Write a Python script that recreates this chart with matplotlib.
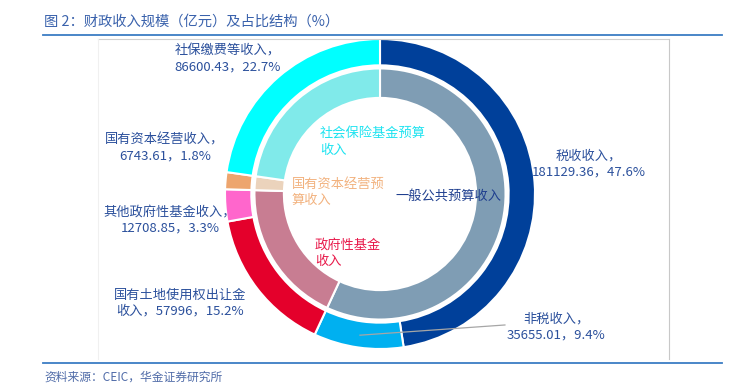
import matplotlib
matplotlib.use("Agg")
import matplotlib.pyplot as plt
from matplotlib.lines import Line2D
import numpy as np

plt.rcParams['font.family'] = ['Noto Sans CJK SC', 'DejaVu Sans']

W, H = 732, 384

# outer ring: revenue items
outer_names = ["税收收入", "非税收入", "国有土地使用权出让金收入", "其他政府性基金收入",
               "国有资本经营收入", "社保缴费等收入"]
outer_vals = [181129.36, 35655.01, 57996, 12708.85, 6743.61, 86600.43]
outer_pcts = ["47.6%", "9.4%", "15.2%", "3.3%", "1.8%", "22.7%"]
outer_colors = ["#00409A", "#00B0F0", "#E4002B", "#FF66CC", "#EDA56E", "#00FFFF"]

# inner ring: budget accounts
inner_names = ["一般公共预算收入", "政府性基金收入", "国有资本经营预算收入", "社会保险基金预算收入"]
inner_vals = [181129.36 + 35655.01, 57996 + 12708.85, 6743.61, 86600.43]
inner_colors = ["#7F9DB4", "#C87D92", "#EBD3BC", "#80EAEA"]

label_color = "#2B509C"


def px(x, y):
    return x / W, 1 - y / H


def hline(x0, x1, y, **kw):
    fig.add_artist(Line2D([x0 / W, x1 / W], [1 - y / H] * 2, **kw))


def vline(x, y0, y1, **kw):
    fig.add_artist(Line2D([x / W] * 2, [1 - y0 / H, 1 - y1 / H], **kw))


fig = plt.figure(figsize=(W / 100, H / 100), dpi=100)

# frame lines
hline(43, 722, 35, color="#3B7DC4", lw=1.3)
hline(43, 722, 363, color="#3B7DC4", lw=1.3)
hline(98, 669, 39, color="#CFCFCF", lw=0.8)
vline(669, 39, 359, color="#C8C8C8", lw=0.8)
vline(98, 39, 359, color="#F0F0F0", lw=0.8)

fig.text(*px(44, 22), "图 2：财政收入规模（亿元）及占比结构（%）", color="#3A62AC",
         fontsize=10.3, va="center", ha="left")
fig.text(*px(44, 377), "资料来源：CEIC，华金证券研究所", color="#4F6BA8",
         fontsize=8.5, va="center", ha="left", style="italic")

ax = fig.add_axes([(380 - 155) / W, (H - 194 - 155) / H, 310 / W, 310 / H])
ax.pie(outer_vals, radius=1, colors=outer_colors, startangle=90, counterclock=False,
       wedgeprops=dict(width=0.17, edgecolor="white", linewidth=1.5))
ax.pie(inner_vals, radius=0.81, colors=inner_colors, startangle=90, counterclock=False,
       wedgeprops=dict(width=0.19, edgecolor="white", linewidth=1.5))
ax.set_xlim(-1, 1)
ax.set_ylim(-1, 1)
ax.set_aspect("equal")
ax.axis("off")


# outer labels
def fmt(v):
    return str(int(v)) if v == int(v) else f"{v:.2f}"


outer_text = [
    f"{outer_names[0]}，\n{fmt(outer_vals[0])}，{outer_pcts[0]}",
    f"{outer_names[1]}，\n{fmt(outer_vals[1])}，{outer_pcts[1]}",
    f"国有土地使用权出让金\n收入，{fmt(outer_vals[2])}，{outer_pcts[2]}",
    f"{outer_names[3]}，\n{fmt(outer_vals[3])}，{outer_pcts[3]}",
    f"{outer_names[4]}，\n{fmt(outer_vals[4])}，{outer_pcts[4]}",
    f"{outer_names[5]}，\n{fmt(outer_vals[5])}，{outer_pcts[5]}",
]
outer_pos = [(589, 164), (556, 327), (180, 303), (170, 220), (165, 148), (228, 59)]
for t, (x, y) in zip(outer_text, outer_pos):
    fig.text(*px(x, y), t, color=label_color, fontsize=9.5, ha="center", va="center",
             linespacing=1.3, multialignment="center")

# leader line for the non-tax slice
cum = np.cumsum(outer_vals) / sum(outer_vals)
mid = (cum[0] + cum[1]) / 2
ang = np.deg2rad(90 - mid * 360)
ax.plot([0.92 * np.cos(ang), 0.806], [0.92 * np.sin(ang), -0.845], color="#A6A6A6",
        lw=0.9, clip_on=False)

# inner labels
inner_text = ["一般公共预算收入", "政府性基金\n收入", "国有资本经营预\n算收入", "社会保险基金预算\n收入"]
inner_text_colors = ["#1F3F8F", "#E8194A", "#F2B27E", "#1EE3F0"]
inner_pos = [(395, 196), (315, 253), (292, 192), (320, 142)]
for t, c, (x, y) in zip(inner_text, inner_text_colors, inner_pos):
    fig.text(*px(x, y), t, color=c, fontsize=9.5, ha="left", va="center", linespacing=1.3)

fig.savefig("out.png", dpi=100)
